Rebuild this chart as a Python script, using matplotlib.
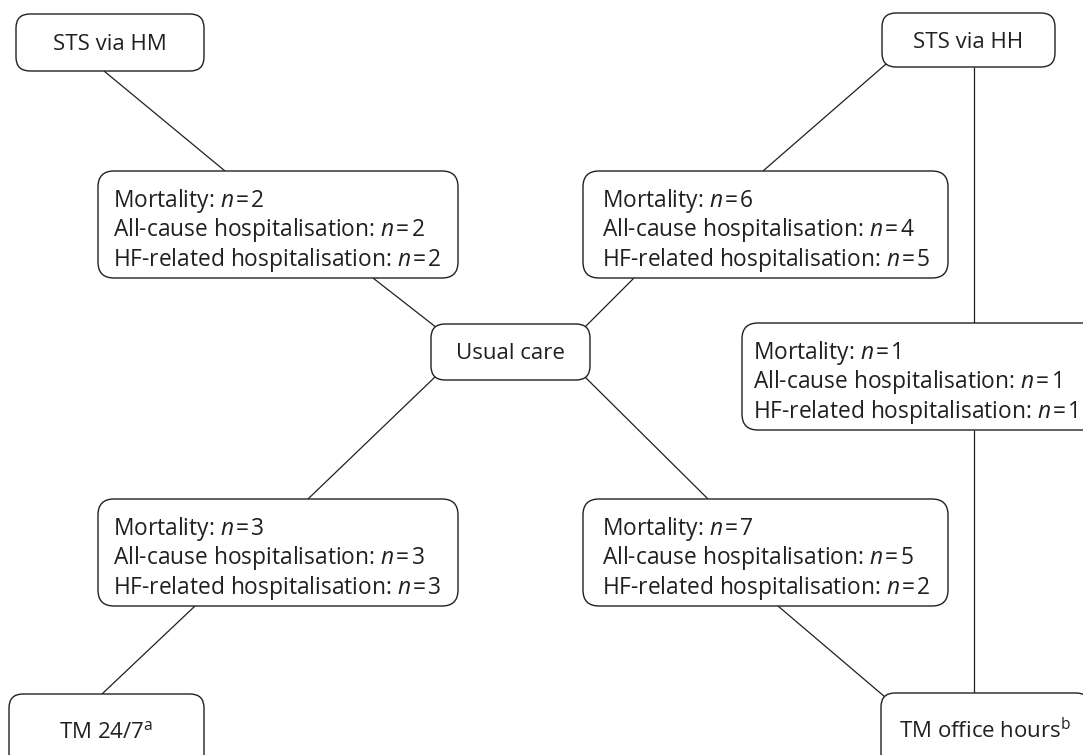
import matplotlib.pyplot as plt
from matplotlib.patches import FancyBboxPatch

plt.rcParams['font.family'] = ['Open Sans', 'DejaVu Sans']
plt.rcParams['mathtext.fontset'] = 'custom'
plt.rcParams['mathtext.rm'] = 'Open Sans'
plt.rcParams['mathtext.it'] = 'Open Sans:italic'

# ---- data -------------------------------------------------------------------
node_labels = ["STS via HM", "STS via HH", "Usual care",
               "TM 24/7$^{\\mathrm{a}}$", "TM office hours$^{\\mathrm{b}}$"]
# comparisons: HM-UC, HH-UC, TM24/7-UC, TMoh-UC, HH-TMoh
mortality = [2, 6, 3, 7, 1]
allcause_hosp = [2, 4, 3, 5, 1]
hf_hosp = [2, 5, 3, 2, 1]

# ---- layout (pixels, origin top-left) ----------------------------------------
node_boxes = [(16, 14, 204, 71), (882, 13, 1055, 67), (431, 324, 590, 380),
              (9, 694, 204, 790), (881, 693, 1090, 790)]
node_baseline = [50, 48, 359, 738, 738]
edge_boxes = [(98, 171, 458, 278), (583, 171, 948, 278), (98, 499, 458, 606),
              (583, 499, 948, 606), (742, 323, 1102, 430)]
edge_text_x = [113, 602, 113, 602, 753]
links = [((104, 71), (225, 171)), ((373, 278), (437, 328)),
         ((585, 327), (634, 278)), ((763, 171), (886, 64)),
         ((435, 377), (308, 499)), ((195, 606), (102, 694)),
         ((585, 377), (708, 499)), ((778, 606), (885, 697)),
         ((974, 67), (974, 323)), ((974, 430), (974, 693))]

ink = '#231f20'
fs_node = 16
fs_edge = 16.4
ts = '\u200a'

fig = plt.figure(figsize=(10.83, 7.55), dpi=100)
ax = fig.add_axes([0, 0, 1, 1])
ax.set_xlim(0, 1083)
ax.set_ylim(755, 0)
ax.axis('off')

for (x0, y0), (x1, y1) in links:
    ax.plot([x0, x1], [y0, y1], color=ink, lw=0.9, zorder=1, solid_capstyle='butt')


def rbox(x0, y0, x1, y1, r):
    p = FancyBboxPatch((x0, y0), x1 - x0, y1 - y0,
                       boxstyle="round,pad=0,rounding_size=%d" % r,
                       fc='white', ec=ink, lw=1.0, zorder=2)
    ax.add_patch(p)


for lab, (x0, y0, x1, y1), yb in zip(node_labels, node_boxes, node_baseline):
    rbox(x0, y0, x1, y1, 14)
    ax.text((x0 + x1) / 2, yb, lab, ha='center', va='baseline', fontsize=fs_node,
            color=ink, zorder=3)

for i, (x0, y0, x1, y1) in enumerate(edge_boxes):
    rbox(x0, y0, x1, y1, 16)
    yc = (y0 + y1) / 2
    lines = ["Mortality: $n$%s=%s%d" % (ts, ts, mortality[i]),
             "All-cause hospitalisation: $n$%s=%s%d" % (ts, ts, allcause_hosp[i]),
             "HF-related hospitalisation: $n$%s=%s%d" % (ts, ts, hf_hosp[i])]
    for k, s in enumerate(lines):
        ax.text(edge_text_x[i], yc + (k - 1) * 29.5 + 12, s, ha='left',
                va='baseline', fontsize=fs_edge, color=ink, zorder=3)

fig.savefig('out.png', dpi=100)
